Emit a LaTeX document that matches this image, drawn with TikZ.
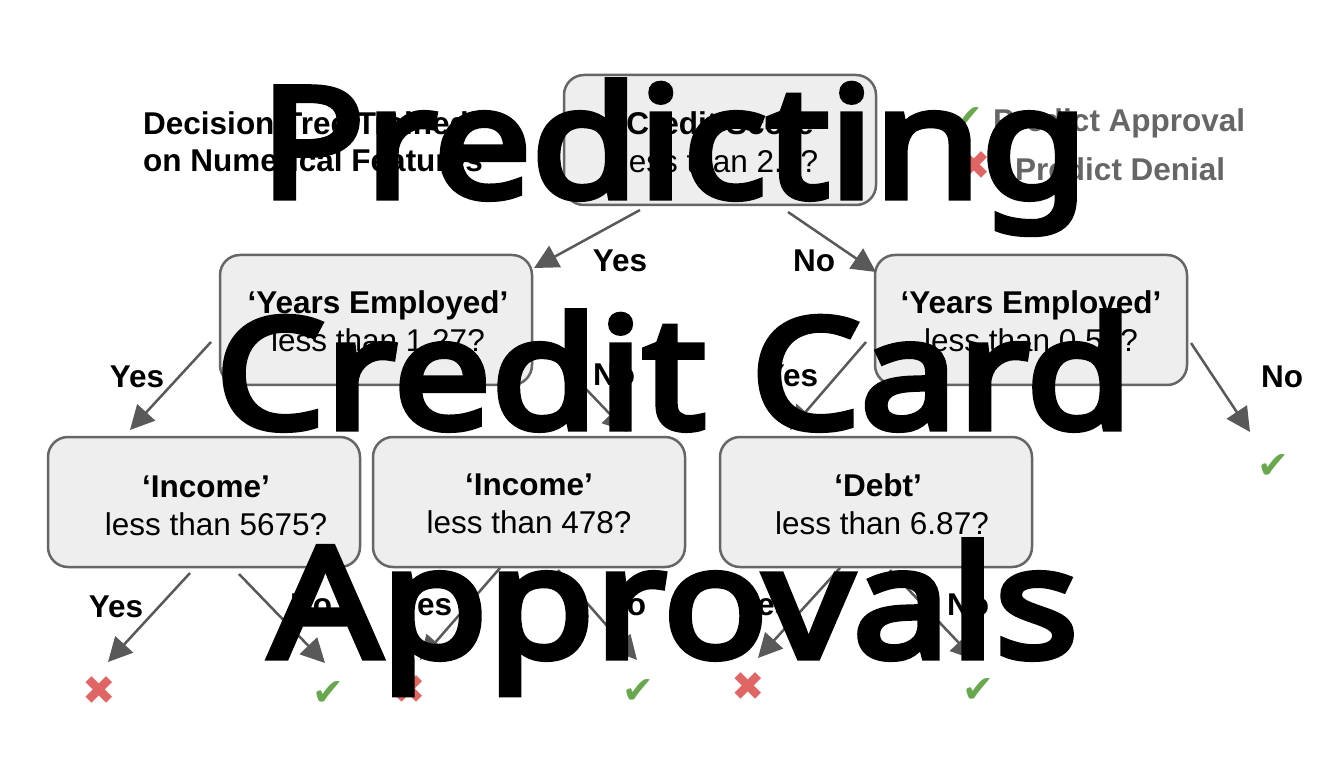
\documentclass[tikz,border=0pt]{standalone}
\usepackage{fontspec}
\setmainfont{Liberation Sans}
\newfontfamily\titlefont{Noto Sans}[FakeBold=4.6, FakeStretch=1.135]
\newfontfamily\symfont{DejaVu Sans}
\usetikzlibrary{arrows.meta}
\definecolor{boxfill}{HTML}{EEEEEE}
\definecolor{boxline}{HTML}{666666}
\definecolor{arrowc}{HTML}{595959}
\definecolor{okgreen}{HTML}{6AA84F}
\definecolor{nored}{HTML}{E06666}
\definecolor{legendgray}{HTML}{666666}
\begin{document}
\begin{tikzpicture}[x=1pt,y=-1pt,
  decision/.style={draw=boxline, line width=2.5pt, fill=boxfill, rounded corners=20pt,
    minimum width=312pt, minimum height=130pt, inner sep=0pt},
  qbold/.style={anchor=base, inner sep=0pt, font=\fontsize{31.5}{36}\selectfont\bfseries},
  qplain/.style={anchor=base, inner sep=0pt, font=\fontsize{31.5}{36}\selectfont},
  edgelabel/.style={anchor=base, inner sep=0pt, font=\fontsize{31.5}{36}\selectfont\bfseries},
  conn/.style={draw=arrowc, line width=2.5pt, -{Triangle[length=24pt,width=24pt]}},
  approve/.style={inner sep=0pt, text=okgreen, font=\symfont\fontsize{38}{38}\selectfont},
  deny/.style={inner sep=0pt, text=nored, font=\symfont\fontsize{40}{40}\selectfont},
  legendtext/.style={anchor=base west, inner sep=0pt, text=legendgray, font=\fontsize{31.5}{36}\selectfont\bfseries},
  heading/.style={anchor=base west, inner sep=0pt, font=\fontsize{31.5}{36}\selectfont\bfseries},
  bigtitle/.style={anchor=base, inner sep=0pt, font=\titlefont\fontsize{153}{153}\selectfont}
]
\fill[white] (0,0) rectangle (1342,759);
\useasboundingbox (0,0) rectangle (1342,759);

% heading
\node[heading] (h1) at (143,135) {Decision Tree Trained};
\node[heading] (h2) at (143,172) {on Numerical Features};

% legend
\node[approve] (lgA) at (967,120) {✔};
\node[legendtext] (lgAt) at (993,132) {Predict Approval};
\node[deny] (lgD) at (974,166) {✖};
\node[legendtext] (lgDt) at (1015,181) {Predict Denial};

% boxes
\node[decision] (root) at (720,140) {};
\node[qbold] (rootA) at (720,135) {‘Credit Score’};
\node[qplain] (rootB) at (720,173) {less than 2.5?};

\node[decision] (yl) at (376,320) {};
\node[qbold] (ylA) at (378,314) {‘Years Employed’};
\node[qplain] (ylB) at (378,352) {less than 1.27?};

\node[decision] (yr) at (1031,320) {};
\node[qbold] (yrA) at (1031,314) {‘Years Employed’};
\node[qplain] (yrB) at (1031,352) {less than 0.52?};

\node[decision] (ia) at (204,502) {};
\node[qbold] (iaA) at (206,497) {‘Income’};
\node[qplain] (iaB) at (216,535) {less than 5675?};

\node[decision] (ib) at (529,502) {};
\node[qbold] (ibA) at (529,495) {‘Income’};
\node[qplain] (ibB) at (529,533) {less than 478?};

\node[decision] (dc) at (876,502) {};
\node[qbold] (dcA) at (878,496) {‘Debt’};
\node[qplain] (dcB) at (882,534) {less than 6.87?};

% leaves
\node[deny] (l1) at (99,691) {✖};
\node[approve] (l2) at (328,694) {✔};
\node[deny] (l3) at (409,690) {✖};
\node[approve] (l4) at (638,692) {✔};
\node[deny] (l5) at (748,687) {✖};
\node[approve] (l6) at (978,691) {✔};
\node[approve] (l7) at (1273,467) {✔};

% connector end points
\coordinate (rs1) at (640,210); \coordinate (rt1) at (534,268);
\coordinate (rs2) at (788,212); \coordinate (rt2) at (876,272);
\coordinate (ls1) at (211,342); \coordinate (lt1) at (130,430);
\coordinate (ls2) at (542,343); \coordinate (lt2) at (627,432);
\coordinate (qs1) at (866,342); \coordinate (qt1) at (790,430);
\coordinate (qs2) at (1191,343); \coordinate (qt2) at (1250,432);
\coordinate (as1) at (190,573); \coordinate (at1) at (108,662);
\coordinate (as2) at (239,574); \coordinate (at2) at (325,663);
\coordinate (bs1) at (500,568); \coordinate (bt1) at (420,660);
\coordinate (bs2) at (558,570); \coordinate (bt2) at (637,660);
\coordinate (cs1) at (840,568); \coordinate (ct1) at (758,658);
\coordinate (cs2) at (890,570); \coordinate (ct2) at (975,660);

\draw[conn] (rs1) -- (rt1);
\draw[conn] (rs2) -- (rt2);
\draw[conn] (ls1) -- (lt1);
\draw[conn] (ls2) -- (lt2);
\draw[conn] (qs1) -- (qt1);
\draw[conn] (qs2) -- (qt2);
\draw[conn] (as1) -- (at1);
\draw[conn] (as2) -- (at2);
\draw[conn] (bs1) -- (bt1);
\draw[conn] (bs2) -- (bt2);
\draw[conn] (cs1) -- (ct1);
\draw[conn] (cs2) -- (ct2);

% edge labels
\node[edgelabel] (e1) at (620,272) {Yes};
\node[edgelabel] (e2) at (814,272) {No};
\node[edgelabel] (e3) at (137,388) {Yes};
\node[edgelabel] (e4) at (614,385) {No};
\node[edgelabel] (e5) at (791,386) {Yes};
\node[edgelabel] (e6) at (1282,388) {No};
\node[edgelabel] (e7) at (116,617) {Yes};
\node[edgelabel] (e8) at (311,615) {No};
\node[edgelabel] (e9) at (425,615) {Yes};
\node[edgelabel] (e10) at (625,615) {No};
\node[edgelabel] (e11) at (765,615) {Yes};
\node[edgelabel] (e12) at (968,615) {No};

% big overlay title
\node[bigtitle] (t1) at (674,197) {Predicting};
\node[bigtitle] (t2) at (674,428) {Credit Card};
\node[bigtitle] (t3) at (674,657) {Approvals};
\end{tikzpicture}
\end{document}
